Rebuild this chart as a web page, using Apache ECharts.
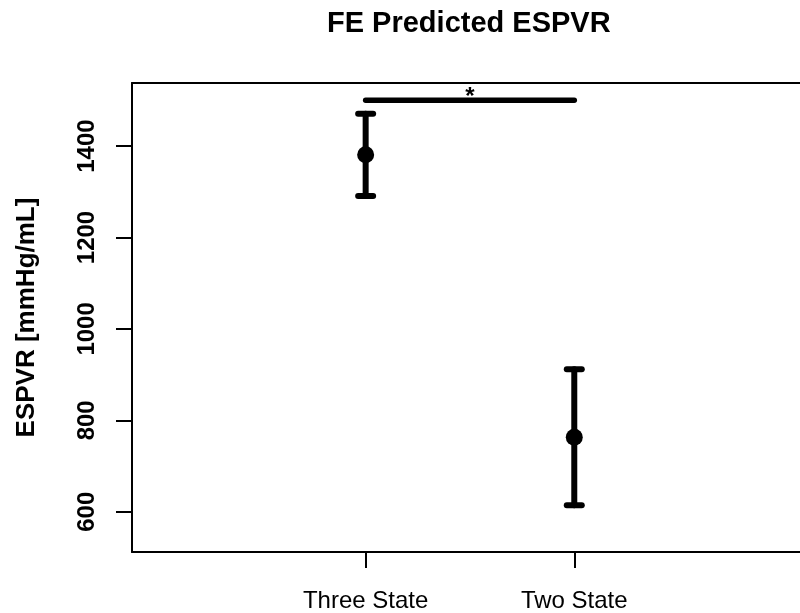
<!DOCTYPE html>
<html>
<head>
<meta charset="utf-8">
<script src="https://cdn.jsdelivr.net/npm/echarts@6/dist/echarts.min.js"></script>
<style>
  html, body { margin: 0; padding: 0; background: #fff; }
  #chart { width: 800px; height: 613px; }
</style>
</head>
<body>
<div id="chart"></div>
<script>
// Group labels and fitted estimates with their interval bounds
const groups = ['Three State', 'Two State'];
const groupPos = [1, 2];
const means = [1381, 763];
const lower = [1291, 614];
const upper = [1471, 912];

// Significance bracket between the two groups
const sigFrom = 1;
const sigTo = 2;
const sigLevel = 1500;
const sigLabel = '*';

// Axis ticks
const yTicks = [600, 800, 1000, 1200, 1400];

const FONT = '"Liberation Sans", Arial, Helvetica, sans-serif';

const chart = echarts.init(document.getElementById('chart'), null, { renderer: 'canvas' });

const barData = groupPos.map((x, i) => [x, lower[i], upper[i]]);
const meanData = groupPos.map((x, i) => [x, means[i]]);

const axisLineStyle = { color: '#000', width: 2 };

chart.setOption({
  animation: false,
  backgroundColor: '#ffffff',
  title: {
    text: 'FE Predicted ESPVR',
    left: 327,
    top: 9,
    padding: 0,
    textStyle: { fontFamily: FONT, fontWeight: 'bold', fontSize: 29, color: '#000' }
  },
  grid: {
    left: 132,
    top: 83,
    right: 0,
    bottom: 60,
    show: false
  },
  xAxis: [
    {
      type: 'value',
      position: 'bottom',
      min: -0.12,
      max: 3.082,
      splitLine: { show: false },
      axisLine: { show: true, onZero: false, lineStyle: axisLineStyle },
      axisTick: {
        show: true,
        inside: false,
        customValues: groupPos,
        length: 16,
        lineStyle: axisLineStyle
      },
      axisLabel: {
        customValues: groupPos,
        margin: 37,
        fontFamily: FONT,
        fontSize: 24,
        color: '#000',
        formatter: (v) => groups[groupPos.indexOf(Math.round(v))] || ''
      }
    },
    {
      // top edge of the plot box
      type: 'value',
      position: 'top',
      min: -0.12,
      max: 3.082,
      splitLine: { show: false },
      axisLine: { show: true, onZero: false, lineStyle: axisLineStyle },
      axisTick: { show: false },
      axisLabel: { show: false }
    }
  ],
  yAxis: {
    type: 'value',
    min: 512,
    max: 1538,
    name: 'ESPVR [mmHg/mL]',
    nameLocation: 'middle',
    nameRotate: 90,
    nameGap: 92,
    nameTextStyle: { fontFamily: FONT, fontWeight: 'bold', fontSize: 26, color: '#000' },
    splitLine: { show: false },
    axisLine: { show: true, onZero: false, lineStyle: axisLineStyle },
    axisTick: {
      show: true,
      inside: false,
      customValues: yTicks,
      length: 16,
      lineStyle: axisLineStyle
    },
    axisLabel: {
      customValues: yTicks,
      rotate: 90,
      margin: 33,
      fontFamily: FONT,
      fontWeight: 'bold',
      fontSize: 24,
      color: '#000',
      formatter: (v) => String(v)
    }
  },
  series: [
    {
      // vertical interval bars with flat caps
      type: 'custom',
      clip: false,
      data: barData,
      renderItem: (params, api) => {
        const x = api.value(0);
        const lo = api.coord([x, api.value(1)]);
        const hi = api.coord([x, api.value(2)]);
        const half = 7.5;
        const style = { stroke: '#000', lineWidth: 6, lineCap: 'round' };
        return {
          type: 'group',
          children: [
            { type: 'line', shape: { x1: lo[0], y1: lo[1], x2: hi[0], y2: hi[1] }, style: style },
            { type: 'line', shape: { x1: lo[0] - half, y1: lo[1], x2: lo[0] + half, y2: lo[1] }, style: style },
            { type: 'line', shape: { x1: hi[0] - half, y1: hi[1], x2: hi[0] + half, y2: hi[1] }, style: style }
          ]
        };
      }
    },
    {
      type: 'scatter',
      data: meanData,
      symbol: 'circle',
      symbolSize: 17,
      itemStyle: { color: '#000', opacity: 1 },
      z: 3
    },
    {
      // significance bracket with its marker
      type: 'custom',
      clip: false,
      data: [[sigFrom, sigTo, sigLevel]],
      renderItem: (params, api) => {
        const a = api.coord([api.value(0), api.value(2)]);
        const b = api.coord([api.value(1), api.value(2)]);
        return {
          type: 'group',
          children: [
            {
              type: 'line',
              shape: { x1: a[0], y1: a[1], x2: b[0], y2: b[1] },
              style: { stroke: '#000', lineWidth: 5.5, lineCap: 'round' }
            },
            {
              type: 'text',
              x: (a[0] + b[0]) / 2,
              y: a[1] - 3,
              style: {
                text: sigLabel,
                fill: '#000',
                font: 'bold 24px ' + FONT,
                textAlign: 'center',
                textVerticalAlign: 'middle'
              }
            }
          ]
        };
      }
    }
  ]
});
</script>
</body>
</html>
